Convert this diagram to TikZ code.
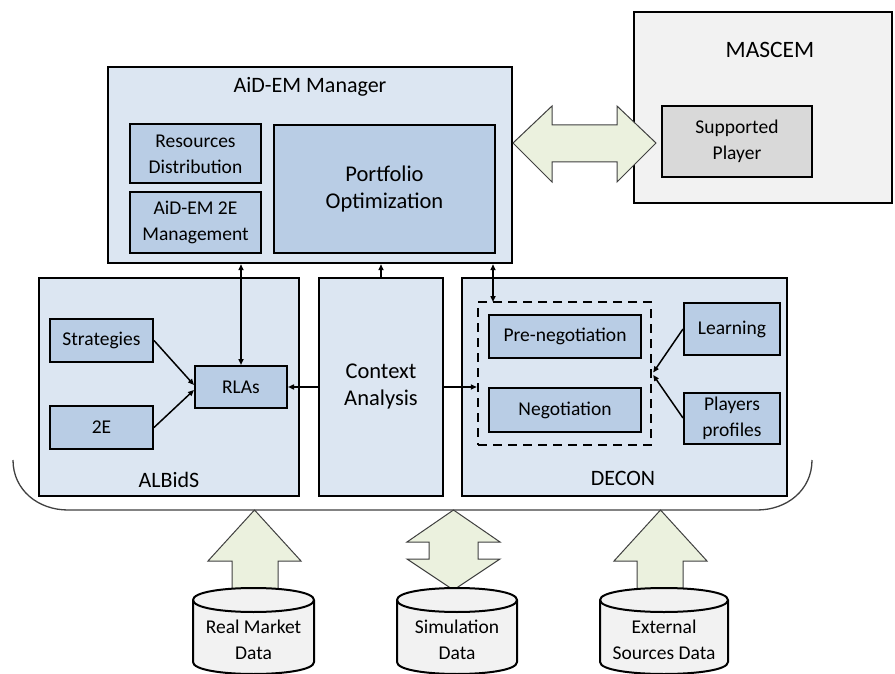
\documentclass[tikz,border=0pt]{standalone}
\usepackage{fontspec}
\setmainfont{Carlito}
\usetikzlibrary{arrows.meta,calc}

\definecolor{outerfill}{RGB}{220,230,242}
\definecolor{innerfill}{RGB}{185,205,229}
\definecolor{greyfill}{RGB}{242,242,242}
\definecolor{playerfill}{RGB}{217,217,217}
\definecolor{bigarrow}{RGB}{235,241,222}
\definecolor{edgegrey}{RGB}{64,64,64}

\tikzset{
  outerbox/.style={draw=black, line width=2.4pt, fill=outerfill, inner sep=0pt},
  innerbox/.style={draw=black, line width=2pt, fill=innerfill, align=center, inner sep=0pt,
                   font=\fontsize{19.5}{26}\selectfont},
  titletext/.style={font=\fontsize{22}{26}\selectfont, align=center, inner sep=0pt},
  link/.style={line width=1.5pt, -{Triangle[length=6pt,width=5pt]}},
  biglink/.style={line width=1.5pt, {Triangle[length=6pt,width=5pt]}-{Triangle[length=6pt,width=5pt]}},
  fatarrow/.style={draw=edgegrey, line width=1pt, fill=bigarrow, line join=miter},
  dbfill/.style={draw=black, line width=2pt, fill=greyfill},
  dbtext/.style={font=\fontsize{19.5}{26}\selectfont, align=center, inner sep=0pt},
}

% cylinder: left x, right x, top-ellipse centre y, bottom-ellipse centre y
\newcommand\dbdrum[4]{%
  \draw[dbfill] (#1,#3) -- (#1,#4) .. controls (#1,#4+16) and (#2,#4+16) .. (#2,#4)
    -- (#2,#3) .. controls (#2,#3-16) and (#1,#3-16) .. (#1,#3) -- cycle;
  \draw[black, line width=2pt] (#1,#3) .. controls (#1,#3+16) and (#2,#3+16) .. (#2,#3);
}

\begin{document}
\begin{tikzpicture}[x=1pt,y=-1pt]
\useasboundingbox (0,0) rectangle (895,674);

% ---- AiD-EM Manager ----
\node[outerbox, minimum width=404pt, minimum height=196pt] (mgr) at (310,165) {};
\node[titletext] (mgrtitle) at (310,87) {AiD-EM Manager};
\node[innerbox, minimum width=131pt, minimum height=59pt] (res) at (195.5,154) {Resources\\Distribution};
\node[innerbox, minimum width=131pt, minimum height=60pt] (mgmt) at (195.5,222.5) {AiD-EM 2E\\Management};
\node[innerbox, minimum width=221pt, minimum height=128pt,
      font=\fontsize{22.5}{27}\selectfont] (port) at (384.5,189) {Portfolio\\Optimization};

% ---- MASCEM ----
\node[draw=black, line width=2pt, fill=greyfill, minimum width=258pt, minimum height=191pt] (mascem) at (763,107.5) {};
\node[titletext, font=\fontsize{23.5}{28}\selectfont] (mascemtitle) at (770,50) {MASCEM};
\node[innerbox, fill=playerfill, minimum width=150pt, minimum height=71pt] (sp) at (737,141.5) {Supported\\Player};

% ---- link between the manager and MASCEM ----
\draw[fatarrow] (513,143) -- (552,106) -- (552,125) -- (617,125) -- (617,106) -- (656,143)
  -- (617,182) -- (617,162) -- (552,162) -- (552,182) -- cycle;

% ---- ALBidS ----
\node[outerbox, minimum width=260pt, minimum height=218pt] (albids) at (169,387) {};
\node[titletext] (albidstitle) at (169,480) {ALBidS};
\node[innerbox, minimum width=103pt, minimum height=43pt] (strat) at (101.5,340.5) {Strategies};
\node[innerbox, minimum width=103pt, minimum height=43pt] (twoE) at (101.5,427.5) {2E};
\node[innerbox, minimum width=92pt, minimum height=42pt] (rlas) at (241,387) {RLAs};

% ---- Context Analysis ----
\node[outerbox, minimum width=124pt, minimum height=218pt, titletext,
      font=\fontsize{22.5}{27}\selectfont] (ctx) at (381,387) {Context\\Analysis};

% ---- DECON ----
\node[outerbox, minimum width=325pt, minimum height=218pt] (decon) at (624.5,387) {};
\node[titletext] (decontitle) at (623,478) {DECON};
\node[draw=black, line width=2.4pt, dash pattern=on 9pt off 6pt,
      minimum width=173pt, minimum height=143pt] (dash) at (564.5,373.5) {};
\node[innerbox, minimum width=152pt, minimum height=43pt] (pre) at (565,336.5) {Pre-negotiation};
\node[innerbox, minimum width=152pt, minimum height=44pt] (neg) at (565,410) {Negotiation};
\node[innerbox, minimum width=96pt, minimum height=52pt] (learn) at (732,329) {Learning};
\node[innerbox, minimum width=96pt, minimum height=51pt] (prof) at (732,418) {Players\\profiles};

% ---- thin connectors ----
\draw[biglink] (rlas.north |- mgr.south) -- (rlas.north);
\draw[link] (ctx.north) -- (ctx.north |- mgr.south);
\coordinate (dtop) at (493,302);
\draw[biglink] (dtop |- mgr.south) -- (dtop);
\draw[link] (ctx.west) -- (rlas.east);
\draw[link] (ctx.east) -- (dash.west |- ctx.east);
\draw[link] (strat.east) -- ($(rlas.west)+(0,-2)$);
\draw[link] (twoE.east) -- ($(rlas.west)+(0,3)$);
\draw[link] (learn.west) -- ($(dash.east)+(1,-1)$);
\draw[link] (prof.west) -- ($(dash.east)+(1,1.5)$);

% ---- grouping bracket under the three modules ----
\draw[edgegrey, line width=1.3pt]
  (13,460) .. controls (13,490) and (38,510) .. (68,510) -- (757,510)
  .. controls (787,510) and (812,490) .. (812,460);

% ---- data sources ----
\draw[fatarrow] (254.5,510) -- (301,561) -- (278,561) -- (278,598) -- (232,598) -- (232,561) -- (208,561) -- cycle;
\draw[fatarrow] (453.5,510) -- (500,542) -- (478,542) -- (478,559) -- (500,559) -- (453.5,590)
  -- (407,559) -- (429,559) -- (429,542) -- (407,542) -- cycle;
\draw[fatarrow] (660.5,510) -- (707,561) -- (683,561) -- (683,598) -- (637,598) -- (637,561) -- (614,561) -- cycle;

\dbdrum{193}{314}{600}{662}
\node[dbtext] (real) at (253.5,640) {Real Market\\Data};

\dbdrum{397}{517}{600}{662}
\node[dbtext] (sim) at (457,640) {Simulation\\Data};

\dbdrum{600}{728}{600}{662}
\node[dbtext] (ext) at (664,640) {External\\Sources Data};
\end{tikzpicture}
\end{document}
